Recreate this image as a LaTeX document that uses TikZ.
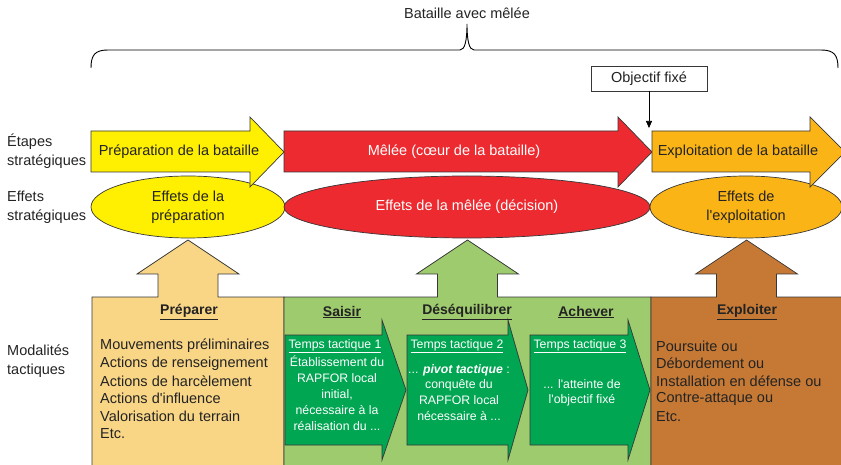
\documentclass[tikz,border=0pt]{standalone}
\usepackage{fontspec}
\setmainfont{Liberation Sans}
\usepackage{tikz}
\usetikzlibrary{arrows.meta, shapes.geometric}
\definecolor{prep}{RGB}{255, 239, 0}
\definecolor{melee}{RGB}{236, 42, 48}
\definecolor{exploit}{RGB}{251, 180, 22}
\definecolor{sand}{RGB}{249, 214, 134}
\definecolor{grass}{RGB}{158, 203, 110}
\definecolor{forest}{RGB}{0, 166, 82}
\definecolor{rust}{RGB}{197, 121, 53}
\definecolor{edge}{RGB}{55, 55, 55}
\definecolor{ink}{RGB}{35, 35, 35}
\newcommand{\apos}{\textquotesingle}

\begin{document}
\begin{tikzpicture}[x=1pt, y=-1pt, font=\fontsize{14.5}{19}\selectfont, text=ink,
  outl/.style={draw=edge, line width=0.7pt},
  effet/.style={ellipse, outl, inner sep=0pt, align=center},
  titre/.style={font=\fontsize{14}{17}\selectfont\bfseries},
  wtxt/.style={text=white, align=center, inner sep=0pt, font=\fontsize{12.3}{15.8}\selectfont}]

  \useasboundingbox (0, 0) rectangle (841, 465);
  \clip (0, 0) rectangle (841, 465);

  % accolade
  \node (bataille) at (467, 13) {Bataille avec mêlée};
  \draw[line width=0.9pt, black] (91, 68) .. controls (91, 55) and (95, 50) .. (108, 50)
    -- (460, 50) .. controls (465, 50) and (467, 40) .. (467, 24)
    .. controls (467, 40) and (469, 50) .. (474, 50) -- (821, 50)
    .. controls (834, 50) and (838, 55) .. (838, 68);

  % effets strategiques
  \node[effet, fill=prep, minimum width=194, minimum height=62] (effprep) at (188, 207)
    {Effets de la\\préparation};
  \node[effet, fill=melee, text=white, minimum width=366, minimum height=62] (effmelee) at (467, 207)
    {Effets de la mêlée (décision)};
  \node[effet, fill=exploit, minimum width=192, minimum height=62] (effexpl) at (746, 207)
    {Effets de\\l\apos exploitation};

  % etapes strategiques
  \foreach \xa/\xb/\xc/\col in {91/250/284/prep, 284/618/652/melee, 652/810/845/exploit} {
    \filldraw[outl, fill=\col] (\xa, 131) -- (\xb, 131) -- (\xb, 117) -- (\xc, 152)
      -- (\xb, 187) -- (\xb, 172) -- (\xa, 172) -- cycle;
  }
  \node (prepa) at (179, 152) {Préparation de la bataille};
  \node[text=white] (melee) at (454, 152) {Mêlée (cœur de la bataille)};
  \node (explo) at (738, 152) {Exploitation de la bataille};

  \node[outl, fill=white, minimum width=116, minimum height=25, inner sep=0pt] (objectif)
    at (649, 78.5) {Objectif fixé};
  \coordinate (objtip) at (649, 128);
  \draw[black, line width=0.7pt, -{Triangle[length=7pt, width=6pt]}] (objectif) -- (objtip);

  % modalites tactiques
  \foreach \xl/\xr/\xm/\col in {92/284/188/sand, 284/651/467.5/grass, 651/850/746.5/rust} {
    \filldraw[outl, fill=\col] (\xl, 470) -- (\xl, 297) -- ({\xm-30}, 297) -- ({\xm-30}, 274)
      -- ({\xm-51}, 274) -- (\xm, 240) -- ({\xm+51}, 274) -- ({\xm+30}, 274)
      -- ({\xm+30}, 297) -- (\xr, 297) -- (\xr, 470);
  }

  \foreach \xa/\xb/\xc in {285/382/406, 407/508/528, 530/628/650} {
    \filldraw[outl, fill=forest] (\xa, 335) -- (\xb, 335) -- (\xb, 320) -- (\xc, 390)
      -- (\xb, 460) -- (\xb, 445) -- (\xa, 445) -- cycle;
  }

  \foreach \x/\t/\n in {189/Préparer/preparer, 342/Saisir/saisir, 467/Déséquilibrer/deseq,
      586/Achever/achever, 747/Exploiter/exploiter}
    \node[titre] (\n) at (\x, 312) {\underline{\t}};

  \foreach \t [count=\i] in {Mouvements préliminaires, Actions de renseignement,
      Actions de harcèlement, Actions d\apos influence, Valorisation du terrain, Etc.}
    \node[anchor=west, inner sep=0pt] (prep-\i) at (100, {346+17.6*(\i-1)}) {\t};

  \foreach \t [count=\i] in {Poursuite ou, Débordement ou, Installation en défense ou,
      Contre-attaque ou, Etc.}
    \node[anchor=west, inner sep=0pt] (expl-\i) at (656, {346+17.6*(\i-1)}) {\t};

  \foreach \x/\k in {335/1, 457/2, 580/3}
    \node[wtxt] (temps-\k) at (\x, 346) {\underline{Temps tactique \k}};

  \node[wtxt, anchor=north] (tt1) at (337, 356)
    {Établissement du\\RAPFOR local\\initial,\\nécessaire à la\\réalisation du ...};
  \node[wtxt, anchor=north] (tt2) at (459, 364)
    {... \textbf{\textit{pivot tactique}} :\\conquête du\\RAPFOR local\\nécessaire à ...};
  \node[wtxt, anchor=north] (tt3) at (582, 379)
    {... l\apos atteinte de\\l\apos objectif fixé};

  % libelles a gauche
  \node[anchor=west, align=left, inner sep=0pt] (etapes) at (7, 151.5) {Étapes\\stratégiques};
  \node[anchor=west, align=left, inner sep=0pt] (effets) at (7, 207.5) {Effets\\stratégiques};
  \node[anchor=west, align=left, inner sep=0pt] (modal) at (7, 361.5) {Modalités\\tactiques};

\end{tikzpicture}
\end{document}
